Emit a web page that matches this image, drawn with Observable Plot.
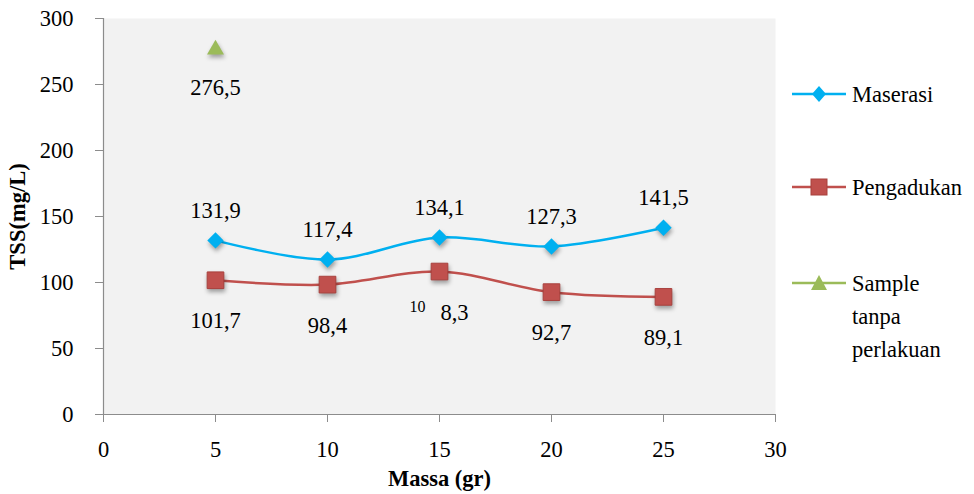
<!DOCTYPE html>
<html><head><meta charset="utf-8">
<script src="https://cdn.jsdelivr.net/npm/d3@7"></script>
<script src="https://cdn.jsdelivr.net/npm/@observablehq/plot@0.6"></script>
<style>
body{margin:0;background:#fff;font-family:'Liberation Serif',serif;}
#wrap{position:relative;width:974px;height:494px;font-family:'Liberation Serif',serif;color:#000;}
#wrap svg g[aria-label="dot"] path{filter:drop-shadow(1px 3px 2px rgba(0,0,0,0.35));}
#wrap svg text{font-family:'Liberation Serif',serif;}
.leg{position:absolute;left:792px;font-size:22.5px;line-height:33px;display:flex;align-items:flex-start;font-family:'Liberation Serif',serif;}
.leg svg{flex:none;margin-top:6px;}
.leg span{margin-left:6px;width:110px;}
</style>
</head><body>
<div id="wrap"></div>
<script>
const massa = [5, 10, 15, 20, 25];
const maserasi = [131.9, 117.4, 134.1, 127.3, 141.5];
const pengadukan = [101.7, 98.4, 108.3, 92.7, 89.1];
const sampleMassa = [5];
const sample = [276.5];
const maserasiLabels = ["131,9", "117,4", "134,1", "127,3", "141,5"];
const pengadukanLabels = ["101,7", "98,4", "8,3", "92,7", "89,1"];
const pengadukanSup = ["", "", "10", "", ""];
const sampleLabels = ["276,5"];
const xTicks = [0, 5, 10, 15, 20, 25, 30];
const yTicks = [0, 50, 100, 150, 200, 250, 300];
const seriesNames = ["Maserasi", "Pengadukan", "Sample tanpa perlakuan"];
const seriesColors = ["#00b0f0", "#c0504d", "#9bbb59"];
const xTitle = "Massa (gr)";
const yTitle = "TSS(mg/L)";

const mData = massa.map((x, i) => ({x, y: maserasi[i], label: maserasiLabels[i]}));
const pData = massa.map((x, i) => ({x, y: pengadukan[i], label: pengadukanLabels[i], sup: pengadukanSup[i]}));
const sData = sampleMassa.map((x, i) => ({x, y: sample[i], label: sampleLabels[i]}));

const chart = Plot.plot({
  width: 974, height: 494,
  marginLeft: 103, marginRight: 199, marginTop: 18, marginBottom: 80,
  x: {domain: [0, 30]},
  y: {domain: [0, 300]},
  style: {fontFamily: "Liberation Serif, serif", fontSize: "22px", background: "transparent", color: "#000"},
  marks: [
    Plot.frame({fill: "#f2f2f2", stroke: null}),
    Plot.ruleX([0], {stroke: "#8c8c8c", strokeWidth: 1.2}),
    Plot.ruleY([0], {stroke: "#8c8c8c", strokeWidth: 1.2}),
    Plot.axisY({ticks: yTicks, tickSize: 8, tickPadding: 22, stroke: "#8c8c8c", label: null, fontSize: 22.5}),
    Plot.axisX({ticks: xTicks, tickSize: 8, tickPadding: 19, stroke: "#8c8c8c", label: null, fontSize: 22.5}),
    Plot.text([xTitle], {frameAnchor: "bottom", dy: 71, fontWeight: "bold", fontSize: 22.5}),
    Plot.text([yTitle], {frameAnchor: "left", textAnchor: "middle", dx: -86, rotate: -90, fontWeight: "bold", fontSize: 22.5}),
    Plot.line(mData, {x: "x", y: "y", stroke: seriesColors[0], strokeWidth: 2.5, curve: "catmull-rom"}),
    Plot.line(pData, {x: "x", y: "y", stroke: seriesColors[1], strokeWidth: 2.5, curve: "catmull-rom"}),
    Plot.dot(mData, {x: "x", y: "y", symbol: "diamond2", r: 7.4, fill: seriesColors[0]}),
    Plot.dot(pData, {x: "x", y: "y", symbol: "square", r: 9.4, fill: seriesColors[1], stroke: "#a8403d", strokeWidth: 1}),
    Plot.dot(sData, {x: "x", y: "y", symbol: "triangle", r: 6.3, fill: seriesColors[2]}),
    Plot.text(mData, {x: "x", y: "y", text: "label", dy: -30, fontSize: 22.5}),
    Plot.text(pData.filter(d => d.sup === ""), {x: "x", y: "y", text: "label", dy: 41, fontSize: 22.5}),
    Plot.text(pData.filter(d => d.sup !== ""), {x: "x", y: "y", text: "label", dx: 15, dy: 41, fontSize: 22.5}),
    Plot.text(pData.filter(d => d.sup !== ""), {x: "x", y: "y", text: "sup", dx: -22, dy: 35, fontSize: 16}),
    Plot.text(sData, {x: "x", y: "y", text: "label", dy: 38, fontSize: 22.5})
  ]
});
const wrap = document.getElementById("wrap");
wrap.appendChild(chart);

const legendTops = [78, 171, 267];
const legendSymbols = [
  '<path d="M27,2 L34,10 L27,18 L20,10Z" fill="#00b0f0"/>',
  '<rect x="19" y="2" width="16" height="16" fill="#c0504d" stroke="#a8403d"/>',
  '<path d="M27,2 L35,17 L19,17Z" fill="#9bbb59"/>'
];
seriesNames.forEach((name, i) => {
  const d = document.createElement("div");
  d.className = "leg";
  d.style.top = legendTops[i] + "px";
  d.innerHTML = `<svg width="54" height="20"><line x1="0" x2="54" y1="10" y2="10" stroke="${seriesColors[i]}" stroke-width="2.5"/>${legendSymbols[i]}</svg><span>${name}</span>`;
  wrap.appendChild(d);
});
</script>
</body></html>
